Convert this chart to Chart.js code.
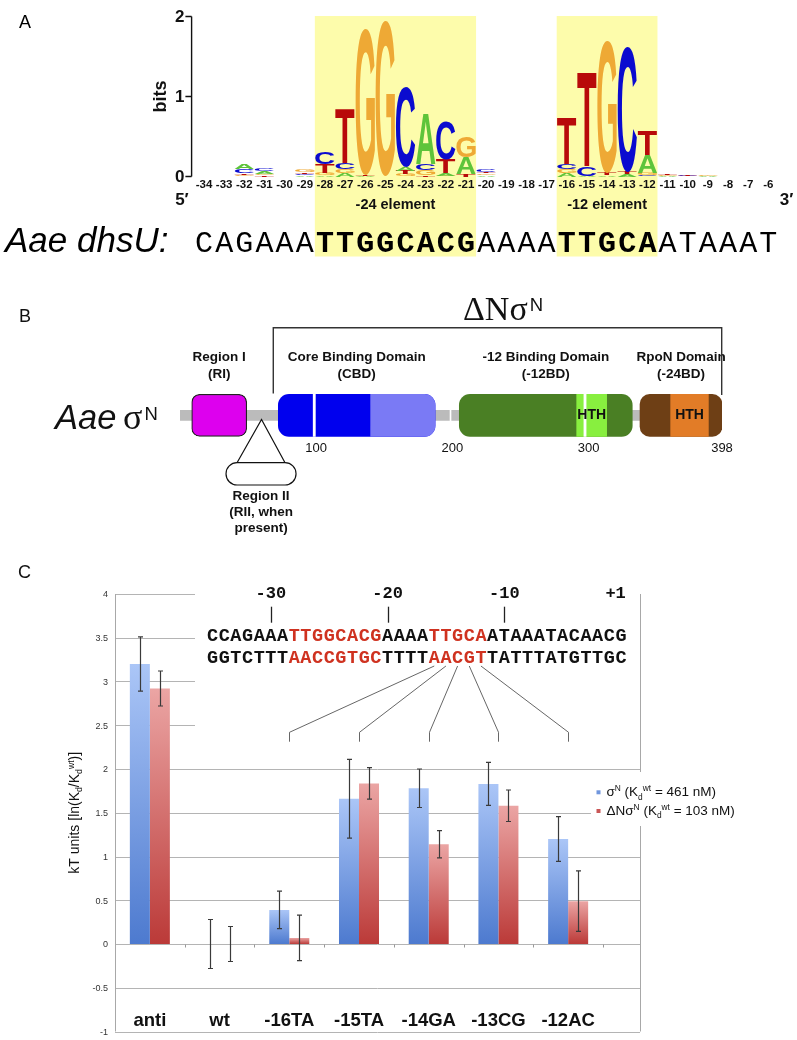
<!DOCTYPE html>
<html>
<head>
<meta charset="utf-8">
<script src="https://cdn.jsdelivr.net/npm/chart.js@4.4.0/dist/chart.umd.min.js"></script>
<style>
  body { margin: 0; background: #fff; }
  #wrap { position: relative; width: 797px; height: 1040px; overflow: hidden; }
  .panel { position: absolute; left: 0; width: 797px; }
</style>
</head>
<body>
<div id="wrap">
  <div class="panel" style="top:0;height:270px"><canvas id="logo" width="797" height="270"></canvas></div>
  <div class="panel" style="top:270px;height:290px"><canvas id="domains" width="797" height="290"></canvas></div>
  <div class="panel" style="top:560px;height:480px"><canvas id="kt" width="797" height="480"></canvas></div>
</div>
<script>
// ---------- Panel A data: sequence logo (bits per base, positions -34..-6)
const positions = [-34, -33, -32, -31, -30, -29, -28, -27, -26, -25, -24, -23, -22, -21, -20,
                   -19, -18, -17, -16, -15, -14, -13, -12, -11, -10, -9, -8, -7, -6];
const bitsA = [0, 0, 0.07, 0.03, 0, 0.015, 0.02, 0.04, 0.01, 0, 0.05, 0.63, 0.03, 0.21, 0.02,
               0, 0, 0, 0.04, 0.01, 0.02, 0.03, 0.22, 0.01, 0, 0.01, 0, 0, 0];
const bitsC = [0, 0, 0.05, 0.035, 0, 0.015, 0.15, 0.08, 0, 0, 1.0, 0.08, 0.47, 0, 0.03,
               0, 0, 0, 0.07, 0.12, 0, 1.57, 0.02, 0, 0.01, 0, 0, 0, 0];
const bitsG = [0, 0, 0.02, 0.02, 0, 0.025, 0.03, 0.05, 1.83, 1.95, 0.03, 0.06, 0.01, 0.26, 0.02,
               0, 0, 0, 0.05, 0, 1.65, 0, 0.03, 0.01, 0, 0.01, 0, 0, 0];
const bitsT = [0, 0, 0.02, 0.015, 0, 0.02, 0.11, 0.68, 0.01, 0, 0.04, 0.02, 0.17, 0.03, 0.02,
               0, 0, 0, 0.58, 1.19, 0.03, 0.03, 0.30, 0.02, 0.01, 0, 0, 0, 0];
const bitTicks = [0, 1, 2];
const dhsU = 'CAGAAATTGGCACGAAAATTGCAATAAAT';
const elementNames = ['-24 element', '-12 element'];
const elementFrom = [-28, -16];
const elementTo = [-21, -12];

// ---------- Panel B data: Aae sigma-N domains (residues)
const backboneFrom = [0, 199.5];
const backboneTo = [197.8, 398];
const domainNames = ['Region I', 'Core Binding Domain', '-12 Binding Domain', 'RpoN Domain'];
const domainShort = ['(RI)', '(CBD)', '(-12BD)', '(-24BD)'];
const domainFrom = [8.6, 72.2, 205.1, 337.8];
const domainTo = [49, 187.3, 332.1, 398];
const subFrom = [140, 291.3, 360.3];
const subTo = [187.3, 313.3, 388];
const subText = ['', 'HTH', 'HTH'];
const separators = [98.6, 297.4];
const residueTicks = [100, 200, 300, 398];
const regionIIAt = 59.5;
const deltaNFrom = 68.5;

// ---------- Panel C data: binding energies
const categories = ['anti', 'wt', '-16TA', '-15TA', '-14GA', '-13CG', '-12AC'];
const sigmaN = [3.20, 0, 0.39, 1.66, 1.78, 1.83, 1.20];
const sigmaNErr = [0.31, 0.28, 0.215, 0.45, 0.22, 0.245, 0.255];
const deltaN = [2.92, 0, 0.07, 1.835, 1.14, 1.58, 0.49];
const deltaNErr = [0.20, 0.20, 0.26, 0.18, 0.155, 0.18, 0.345];
const yTicks = [4, 3.5, 3, 2.5, 2, 1.5, 1, 0.5, 0, -0.5, -1];
const topStrand = 'CCAGAAATTGGCACGAAAATTGCAATAAATACAACG';
const bottomStrand = 'GGTCTTTAACCGTGCTTTTAACGTTATTTATGTTGC';
const strandFirstPos = -35;
const seqMarks = [-30, -20, -10];

// ---------- styles
const SANS = '"Liberation Sans", Arial, sans-serif';
const SERIF = '"Liberation Serif", "Times New Roman", serif';
const MONO = '"Liberation Mono", "Courier New", monospace';
const baseColors = {A: '#5ec43a', C: '#0b0bcf', G: '#eea935', T: '#b80a0a'};
const highlight = '#fdfcab';
const blueTop = '#abc6f7', blueBottom = '#4d7acf';
const redTop = '#eba5a4', redBottom = '#bb3a38';
const motifRed = '#cf3220';

//Helper Functions
function drawRich(ctx, parts, x, y, size, weight, family, measureOnly) {
    let cx = x;
    parts.forEach(function ([t, kind]) {
        const s = kind ? size * 0.62 : size;
        ctx.font = weight + ' ' + s + 'px ' + family;
        const dy = kind === 'sup' ? -size * 0.38 : (kind === 'sub' ? size * 0.24 : 0);
        if (!measureOnly) ctx.fillText(t, cx, y + dy);
        cx += ctx.measureText(t).width;
    });
    return cx - x;
}

function drawGlyph(ctx, letter, x, y, w, h) {
    ctx.save();
    ctx.font = 'bold 100px ' + SANS;
    ctx.textAlign = 'left';
    ctx.textBaseline = 'alphabetic';
    const m = ctx.measureText(letter);
    const gw = m.actualBoundingBoxLeft + m.actualBoundingBoxRight;
    const gh = m.actualBoundingBoxAscent + m.actualBoundingBoxDescent;
    ctx.translate(x, y);
    ctx.scale(w / gw, h / gh);
    ctx.fillStyle = baseColors[letter];
    ctx.fillText(letter, m.actualBoundingBoxLeft, m.actualBoundingBoxAscent);
    ctx.restore();
}

function inElement(p) {
    return elementFrom.some((f, k) => p >= f && p <= elementTo[k]);
}

// ================= Panel A =================
const logoDrawing = {
    id: 'logoDrawing',
    beforeDatasetsDraw(chart) {
        const {ctx, chartArea: {left, top, bottom}, scales: {x, y}} = chart;
        const w = x.width / positions.length;
        ctx.save();

        // yellow element boxes
        ctx.fillStyle = highlight;
        elementFrom.forEach(function (p, k) {
            const x0 = x.getPixelForValue(positions.indexOf(p)) - w / 2;
            const x1 = x.getPixelForValue(positions.indexOf(elementTo[k])) + w / 2;
            ctx.fillRect(x0, top - 0.5, x1 - x0, 240.5);
            ctx.fillStyle = '#111';
            ctx.font = 'bold 14.5px ' + SANS;
            ctx.textAlign = 'center';
            ctx.textBaseline = 'middle';
            ctx.fillText(elementNames[k], (x0 + x1) / 2, bottom + 28);
            ctx.fillStyle = highlight;
        });

        // bits axis
        ctx.strokeStyle = '#111';
        ctx.lineWidth = 1.4;
        ctx.beginPath();
        ctx.moveTo(left - 2.3, y.getPixelForValue(0));
        ctx.lineTo(left - 2.3, y.getPixelForValue(2));
        bitTicks.forEach(function (t) {
            ctx.moveTo(left - 8.5, y.getPixelForValue(t));
            ctx.lineTo(left - 2.3, y.getPixelForValue(t));
        });
        ctx.stroke();
        ctx.fillStyle = '#111';
        ctx.font = 'bold 17px ' + SANS;
        ctx.textAlign = 'right';
        ctx.textBaseline = 'middle';
        bitTicks.forEach(function (t) {
            ctx.fillText(String(t), left - 9.5, y.getPixelForValue(t) + 0.5);
        });
        ctx.save();
        ctx.translate(161, (y.getPixelForValue(0) + y.getPixelForValue(2)) / 2);
        ctx.rotate(-Math.PI / 2);
        ctx.textAlign = 'center';
        ctx.font = 'bold 18px ' + SANS;
        ctx.fillText('bits', 0, 0);
        ctx.restore();

        // position labels
        ctx.font = 'bold 11.5px ' + SANS;
        ctx.textAlign = 'center';
        positions.forEach(function (p, i) {
            ctx.fillText(String(p), x.getPixelForValue(i), bottom + 8);
        });
        ctx.font = 'bold 17px ' + SANS;
        ctx.fillText('5\u2032', left - 12, bottom + 24);
        ctx.fillText('3\u2032', 786.5, bottom + 24);

        // stacked letters, smallest at the bottom
        positions.forEach(function (p, i) {
            const stack = [['A', bitsA[i]], ['C', bitsC[i]], ['G', bitsG[i]], ['T', bitsT[i]]]
                .filter(s => s[1] > 0)
                .sort((a, b) => a[1] - b[1]);
            let cum = 0;
            const cx = x.getPixelForValue(i);
            stack.forEach(function ([b, h]) {
                const yb = y.getPixelForValue(cum);
                const yt = y.getPixelForValue(cum + h);
                cum += h;
                if (yb - yt < 0.4) return;
                drawGlyph(ctx, b, cx - w / 2 + 0.4, yt, w - 0.8, yb - yt);
            });
        });

        // promoter sequence aligned with logo columns
        ctx.fillStyle = '#000';
        ctx.textAlign = 'center';
        ctx.textBaseline = 'alphabetic';
        dhsU.split('').forEach(function (c, i) {
            ctx.font = (inElement(positions[i]) ? 'bold ' : '') + '30px ' + MONO;
            ctx.fillText(c, x.getPixelForValue(i), 251.5);
        });
        ctx.textAlign = 'left';
        ctx.font = 'italic 35px ' + SANS;
        ctx.fillText('Aae dhsU:', 5, 251.5);

        ctx.font = '18px ' + SANS;
        ctx.textBaseline = 'middle';
        ctx.fillText('A', 19, 23);
        ctx.restore();
    }
};

new Chart(document.getElementById('logo'), {
    type: 'bar',
    data: {
        labels: positions.map(String),
        datasets: ['A', 'C', 'G', 'T'].map(function (b, k) {
            return {label: b, data: [bitsA, bitsC, bitsG, bitsT][k], backgroundColor: 'rgba(0,0,0,0)', stack: 'logo'};
        }),
    },
    plugins: [logoDrawing],
    options: {
        responsive: false,
        animation: false,
        devicePixelRatio: 1,
        events: [],
        plugins: {legend: {display: false}, tooltip: {enabled: false}},
        scales: {
            x: {display: false, stacked: true},
            y: {display: false, stacked: true, min: 0, max: 2},
        },
        layout: {padding: {left: 193.9, right: 18.6, top: 16.5, bottom: 93.5}},
    },
});

// ================= Panel B =================
const domainFill = ['#dd00ee', '#0000ee', '#4a7f24', '#6e3f15'];
const domainRadius = [8, 11, 11, 10];
const subFill = ['#7a7af5', '#88ef3f', '#e27c27'];
const subRadius = [{topLeft: 0, bottomLeft: 0, topRight: 11, bottomRight: 11}, 0, 0];

const domainDatasets = [];
backboneFrom.forEach(function (f, k) {
    domainDatasets.push({data: [[f, backboneTo[k]]], backgroundColor: '#bbbbbb', barThickness: 10, order: 10});
});
domainFrom.forEach(function (f, k) {
    domainDatasets.push({
        data: [[f, domainTo[k]]],
        backgroundColor: domainFill[k],
        borderColor: k === 0 ? '#222' : 'rgba(0,0,0,0)',
        borderWidth: k === 0 ? 1.2 : 0,
        borderRadius: {topLeft: domainRadius[k], topRight: domainRadius[k], bottomLeft: domainRadius[k], bottomRight: domainRadius[k]},
        barThickness: 42,
        order: 6,
    });
});
subFrom.forEach(function (f, k) {
    domainDatasets.push({data: [[f, subTo[k]]], backgroundColor: subFill[k], borderRadius: subRadius[k], barThickness: 42, order: 4});
});
separators.forEach(function (s) {
    domainDatasets.push({data: [[s - 0.8, s + 0.8]], backgroundColor: '#ffffff', barThickness: 42, order: 2});
});

const domainDrawing = {
    id: 'domainDrawing',
    afterDatasetsDraw(chart) {
        const {ctx, scales: {x}} = chart;
        const cy = 145.3;
        ctx.save();
        ctx.fillStyle = '#111';
        ctx.textAlign = 'center';
        ctx.textBaseline = 'middle';

        // domain names
        ctx.font = 'bold 13.5px ' + SANS;
        domainNames.forEach(function (n, k) {
            const mx = x.getPixelForValue((domainFrom[k] + domainTo[k]) / 2);
            ctx.fillText(n, mx, 87.5);
            ctx.fillText(domainShort[k], mx, 104.5);
        });
        ctx.font = 'bold 14px ' + SANS;
        subText.forEach(function (t, k) {
            if (t) ctx.fillText(t, x.getPixelForValue((subFrom[k] + subTo[k]) / 2), cy);
        });

        // residue numbers
        ctx.font = '13px ' + SANS;
        residueTicks.forEach(function (r) {
            ctx.fillText(String(r), x.getPixelForValue(r), 178.5);
        });

        // region II insertion
        const ax = x.getPixelForValue(regionIIAt);
        ctx.strokeStyle = '#111';
        ctx.lineWidth = 1.2;
        ctx.beginPath();
        ctx.moveTo(ax - 24, 192.7);
        ctx.lineTo(ax + 0.5, 149.5);
        ctx.lineTo(ax + 24, 192.7);
        ctx.stroke();
        ctx.beginPath();
        ctx.roundRect(ax - 35, 192.7, 70, 22.3, 11);
        ctx.fillStyle = '#fff';
        ctx.fill();
        ctx.stroke();
        ctx.fillStyle = '#111';
        ctx.font = 'bold 13.5px ' + SANS;
        ctx.fillText('Region II', ax, 226);
        ctx.fillText('(RII, when', ax, 242);
        ctx.fillText('present)', ax, 258.5);

        // delta-N bracket
        const bx0 = x.getPixelForValue(deltaNFrom);
        const bx1 = x.getPixelForValue(398) - 0.3;
        ctx.strokeStyle = '#333';
        ctx.lineWidth = 1.4;
        ctx.beginPath();
        ctx.moveTo(bx0, 123.5);
        ctx.lineTo(bx0, 57.7);
        ctx.lineTo(bx1, 57.7);
        ctx.lineTo(bx1, 125);
        ctx.stroke();
        ctx.textAlign = 'left';
        ctx.textBaseline = 'alphabetic';
        ctx.font = '34px ' + SERIF;
        ctx.fillText('\u0394N\u03c3', 463, 50);
        const dw = ctx.measureText('\u0394N\u03c3').width;
        ctx.font = '18.5px ' + SANS;
        ctx.fillText('N', 463 + dw + 2, 40.7);

        // protein name
        ctx.font = 'italic 34.5px ' + SANS;
        ctx.fillText('Aae', 55, 159.3);
        ctx.font = '36px ' + SERIF;
        ctx.fillText('\u03c3', 123, 159.3);
        ctx.font = '18.5px ' + SANS;
        ctx.fillText('N', 144.5, 150);

        ctx.font = '18px ' + SANS;
        ctx.textBaseline = 'middle';
        ctx.fillText('B', 19, 46.7);
        ctx.restore();
    }
};

new Chart(document.getElementById('domains'), {
    type: 'bar',
    data: {labels: ['\u03c3N'], datasets: domainDatasets},
    plugins: [domainDrawing],
    options: {
        indexAxis: 'y',
        responsive: false,
        animation: false,
        devicePixelRatio: 1,
        events: [],
        datasets: {bar: {grouped: false, borderSkipped: false}},
        plugins: {legend: {display: false}, tooltip: {enabled: false}},
        scales: {
            x: {type: 'linear', display: false, min: 0, max: 398},
            y: {display: false},
        },
        layout: {padding: {left: 180, right: 75, top: 95, bottom: 94.4}},
    },
});

// ================= Panel C =================
const seqX0 = 206.7, seqPitch = 11.67;
const charX = i => seqX0 + (i + 0.5) * seqPitch;
const frameExtra = 37;

function barGradient(topColor, bottomColor) {
    return function (context) {
        const chart = context.chart;
        if (!chart.chartArea || context.type !== 'data') return bottomColor;
        const yScale = chart.scales.y;
        const y1 = yScale.getPixelForValue(context.raw);
        const y0 = yScale.getPixelForValue(0);
        if (Math.abs(y0 - y1) < 1) return bottomColor;
        const g = chart.ctx.createLinearGradient(0, y1, 0, y0);
        g.addColorStop(0, topColor);
        g.addColorStop(1, bottomColor);
        return g;
    };
}

const ktDrawings = {
    id: 'ktDrawings',
    beforeDatasetsDraw(chart) {
        const {ctx, chartArea: {left, right, top, bottom}, scales: {x, y}} = chart;
        const fr = right + frameExtra;
        ctx.save();

        // gridlines
        ctx.strokeStyle = '#b4b4b4';
        ctx.lineWidth = 1;
        yTicks.forEach(function (t) {
            const py = Math.round(y.getPixelForValue(t)) + 0.5;
            ctx.beginPath();
            ctx.moveTo(left, py);
            ctx.lineTo(fr, py);
            ctx.stroke();
        });
        // frame
        ctx.strokeStyle = '#a8a8a8';
        ctx.beginPath();
        ctx.moveTo(left + 0.5, top);
        ctx.lineTo(left + 0.5, bottom);
        ctx.moveTo(fr + 0.5, top);
        ctx.lineTo(fr + 0.5, bottom);
        ctx.stroke();

        // white annotation area and legend area
        ctx.fillStyle = '#fff';
        ctx.fillRect(195, 0, fr - 195, 190);
        ctx.fillRect(591, 212, 170, 54);

        // category tick marks on the zero line
        const y0 = Math.round(y.getPixelForValue(0)) + 0.5;
        const cw = x.width / categories.length;
        ctx.strokeStyle = '#999';
        ctx.beginPath();
        for (let k = 1; k <= categories.length; k++) {
            const px = Math.round(left + k * cw) + 0.5;
            ctx.moveTo(px, y0);
            ctx.lineTo(px, y0 + 3);
        }
        ctx.stroke();

        // y tick labels
        ctx.fillStyle = '#333';
        ctx.font = '9px ' + SANS;
        ctx.textAlign = 'right';
        ctx.textBaseline = 'middle';
        yTicks.forEach(function (t) {
            ctx.fillText(String(t), left - 7, y.getPixelForValue(t) + 1);
        });

        // y title
        ctx.fillStyle = '#111';
        const title = [['kT units [ln(K', ''], ['d', 'sub'], ['/K', ''], ['d', 'sub'], ['wt', 'sup'], [')]', '']];
        ctx.save();
        ctx.translate(79, (y.getPixelForValue(4) + y.getPixelForValue(-1)) / 2);
        ctx.rotate(-Math.PI / 2);
        ctx.textAlign = 'left';
        ctx.textBaseline = 'alphabetic';
        const tw = drawRich(ctx, title, 0, 0, 14, 'normal', SANS, true);
        drawRich(ctx, title, -tw / 2, 0, 14, 'normal', SANS);
        ctx.restore();

        // category labels
        ctx.font = 'bold 18.5px ' + SANS;
        ctx.textAlign = 'center';
        ctx.textBaseline = 'alphabetic';
        categories.forEach(function (c, i) {
            ctx.fillText(c, x.getPixelForValue(i), 466);
        });
        ctx.restore();
    },
    afterDatasetsDraw(chart) {
        const {ctx, scales: {y}} = chart;
        ctx.save();

        // error bars
        ctx.strokeStyle = '#3a3a3a';
        ctx.lineWidth = 1.2;
        chart.data.datasets.forEach(function (ds, d) {
            chart.getDatasetMeta(d).data.forEach(function (bar, i) {
                const v = ds.data[i], e = ds.errors[i];
                const px = Math.round(bar.x) + 0.5;
                const yh = y.getPixelForValue(v + e), yl = y.getPixelForValue(v - e);
                ctx.beginPath();
                ctx.moveTo(px, yh);
                ctx.lineTo(px, yl);
                ctx.moveTo(px - 2.5, yh);
                ctx.lineTo(px + 2.5, yh);
                ctx.moveTo(px - 2.5, yl);
                ctx.lineTo(px + 2.5, yl);
                ctx.stroke();
            });
        });

        // promoter sequence annotation
        ctx.fillStyle = '#111';
        ctx.font = 'bold 17px ' + MONO;
        ctx.textAlign = 'center';
        ctx.textBaseline = 'alphabetic';
        ctx.strokeStyle = '#222';
        ctx.lineWidth = 1.3;
        seqMarks.forEach(function (p) {
            const px = charX(p - strandFirstPos);
            ctx.fillText(String(p), px, 37.5);
            ctx.beginPath();
            ctx.moveTo(Math.round(px) + 0.5, 46.7);
            ctx.lineTo(Math.round(px) + 0.5, 62.7);
            ctx.stroke();
        });
        ctx.textAlign = 'right';
        ctx.fillText('+1', seqX0 + topStrand.length * seqPitch - 1, 37.5);

        ctx.textAlign = 'center';
        ctx.font = 'bold 18.5px ' + MONO;
        [topStrand, bottomStrand].forEach(function (s, r) {
            s.split('').forEach(function (c, i) {
                ctx.fillStyle = inElement(strandFirstPos + i) ? motifRed : '#111';
                ctx.fillText(c, charX(i), 80.7 + r * 22);
            });
        });

        // fan lines from mutated base pairs to their bars
        const xs = chart.scales.x;
        ctx.strokeStyle = '#555';
        ctx.lineWidth = 0.9;
        categories.forEach(function (c, i) {
            if (c.charAt(0) !== '-') return;
            const sx = charX(parseInt(c, 10) - strandFirstPos);
            const ex = Math.round(xs.getPixelForValue(i)) + 0.5;
            ctx.beginPath();
            ctx.moveTo(sx, 106);
            ctx.lineTo(ex, 172.3);
            ctx.lineTo(ex, 181.7);
            ctx.stroke();
        });

        // legend
        const legendRows = [
            [[['\u03c3', ''], ['N', 'sup'], [' (K', ''], ['d', 'sub'], ['wt', 'sup'], [' = 461 nM)', '']], '#7096dd'],
            [[['\u0394N\u03c3', ''], ['N', 'sup'], [' (K', ''], ['d', 'sub'], ['wt', 'sup'], [' = 103 nM)', '']], '#c95656'],
        ];
        ctx.textAlign = 'left';
        legendRows.forEach(function ([parts, color], r) {
            ctx.fillStyle = color;
            ctx.fillRect(596.5, 230.3 + r * 18.7, 4, 4);
            ctx.fillStyle = '#111';
            drawRich(ctx, parts, 606.5, 236.3 + r * 18.7, 13.5, 'normal', SANS);
        });

        ctx.font = '18px ' + SANS;
        ctx.textBaseline = 'middle';
        ctx.fillStyle = '#111';
        ctx.fillText('C', 18, 13);
        ctx.restore();
    }
};

new Chart(document.getElementById('kt'), {
    type: 'bar',
    data: {
        labels: categories,
        datasets: [
            {
                label: '\u03c3N',
                data: sigmaN,
                errors: sigmaNErr,
                backgroundColor: barGradient(blueTop, blueBottom),
                categoryPercentage: 0.574,
                barPercentage: 1,
            },
            {
                label: '\u0394N\u03c3N',
                data: deltaN,
                errors: deltaNErr,
                backgroundColor: barGradient(redTop, redBottom),
                categoryPercentage: 0.574,
                barPercentage: 1,
            },
        ],
    },
    plugins: [ktDrawings],
    options: {
        responsive: false,
        animation: false,
        devicePixelRatio: 1,
        events: [],
        plugins: {legend: {display: false}, tooltip: {enabled: false}},
        scales: {
            x: {display: false},
            y: {display: false, min: -1, max: 4},
        },
        layout: {padding: {left: 115, right: 194, top: 34, bottom: 8.5}},
    },
});
</script>
</body>
</html>
